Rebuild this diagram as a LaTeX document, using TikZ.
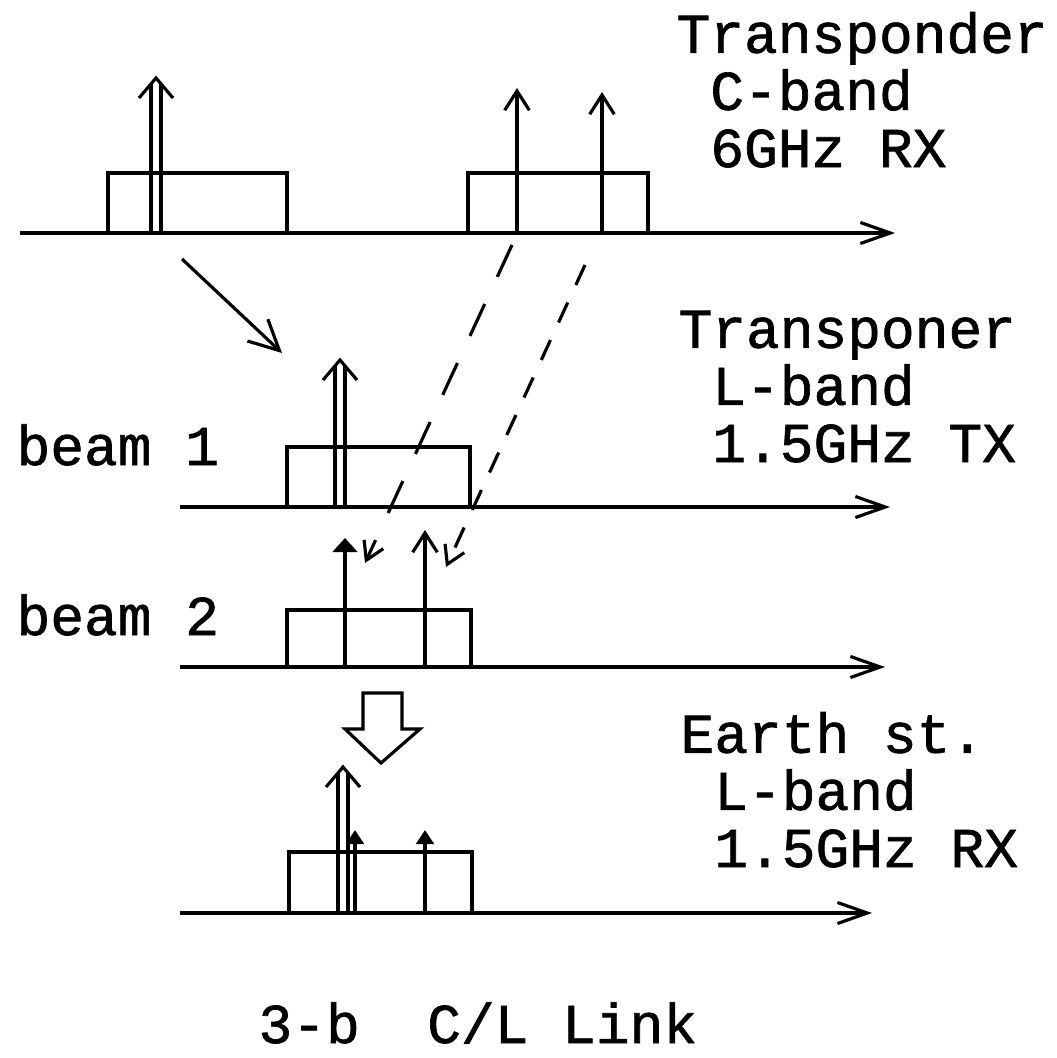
\documentclass[tikz,border=0pt]{standalone}
\usepackage{fontspec}
\setmonofont[FakeBold=1.2]{Liberation Mono}
\usetikzlibrary{arrows.meta,positioning,calc}

\begin{document}
\begin{tikzpicture}[
  x=0.02cm, y=-0.02cm,
  line width=1.8pt,
  font=\ttfamily\fontsize{32}{32.5}\selectfont,
  axis/.style={-{Straight Barb[length=17pt,width=12pt]}},
  carrier/.style={-{Straight Barb[length=11pt,width=14pt]}},
  fatcarrier/.style={-{Triangle[length=8pt,width=14pt]}},
  tiny/.style={-{Triangle[length=8pt,width=10pt]}},
  longdash/.style={dash pattern=on 20pt off 17pt, -{Straight Barb[length=10pt,width=12pt]}},
  shortdash/.style={dash pattern=on 12.5pt off 11pt, -{Straight Barb[length=10pt,width=12pt]}},
  label/.style={align=left, anchor=base west, inner sep=0pt}
]
\useasboundingbox (0,0) rectangle (1057,1058);

% --- Row 1: C-band uplink ---
\draw[axis] (20,233) -- (895,233);
\draw (108,233) |- (287,173) -- (287,233);   % band 1
\draw (468,233) |- (648,173) -- (648,233);   % band 2
\draw[carrier] (517,233) -- (517,88);
\draw[carrier] (602,233) -- (602,92);
\node[label] (cband) at (675,167) {Transponder\\~C-band\\~6GHz RX};

% --- Row 2: beam 1 ---
\draw[axis] (180,507) -- (890,507);
\draw (287,507) |- (470,447) -- (470,507);
\node[label] (tx) at (677,462) {Transponer\\~L-band\\~1.5GHz TX};
\node[label] (beamA) at (15,465) {beam 1};

% --- Row 3: beam 2 ---
\draw[axis] (180,667) -- (885,667);
\draw (287,667) |- (471,610) -- (471,667);
\draw[fatcarrier] (345,667) -- (345,538);
\draw[carrier] (425,667) -- (425,530);
\node[label] (beamB) at (15,635) {beam 2};

% --- Row 4: earth station ---
\draw[axis] (180,913) -- (872,913);
\draw (289,913) |- (472,852) -- (472,913);
\draw[tiny] (355,913) -- (355,830);
\draw[tiny] (425,913) -- (425,830);
\node[label] (rx) at (679,867) {Earth st.\\~L-band\\~1.5GHz RX};

% double carriers: centre x / axis y / tip y
\foreach \cx/\ay/\ty in {156/233/78, 340/507/360, 343/913/767} {
  \draw (\cx-5,\ay) -- (\cx-5,\ty+6);
  \draw (\cx+5,\ay) -- (\cx+5,\ty+6);
  \draw (\cx-17,\ty+20) -- (\cx,\ty) -- (\cx+17,\ty+20);
}

% --- translation arrows ---
\coordinate (dfrom) at (182,259);
\coordinate (dto) at (282,353);
\draw[-{Straight Barb[length=17pt,width=17pt]}] (dfrom) -- (dto);

\coordinate (lA) at (512,245);
\coordinate (lAend) at (365,563);
\coordinate (lB) at (585,265);
\coordinate (lBend) at (446,567);
\draw[longdash] (lA) -- (lAend);
\draw[shortdash] (lB) -- (lBend);

% hollow block arrow
\draw[line join=miter] (363,693) -- (402,693) -- (402,729) -- (420,729)
  -- (381,763) -- (345,729) -- (363,729) -- cycle;

\node[label] (caption) at (257,1043) {3-b~~C/L Link};

\end{tikzpicture}
\end{document}
